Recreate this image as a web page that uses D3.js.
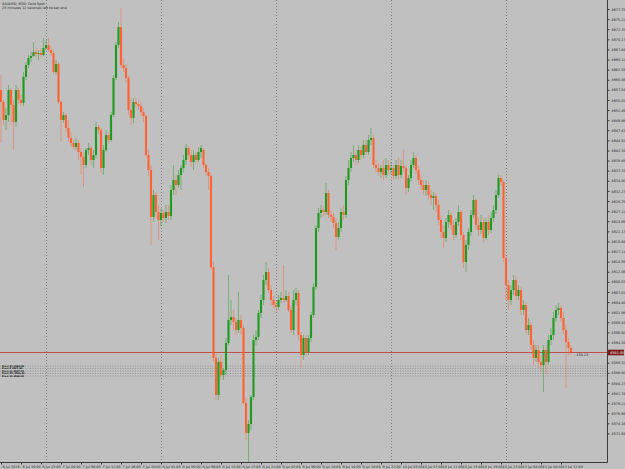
<!DOCTYPE html>
<html>
<head>
<meta charset="utf-8">
<script src="https://cdn.jsdelivr.net/npm/d3@7"></script>
<style>
  body { margin: 0; background: #c0c0c0; }
  svg { display: block; }
</style>
</head>
<body>
<div id="chart-area"></div>
<script>
// chart title lines (top left)
var titleLines = ["XAUUSD, M30: Gold Spot", "25 minutes 12 seconds left to bar end"]

// M30 candles
var opens = [
  4657.5, 4654.5, 4650, 4651.25, 4657.5, 4653.75, 4649.5, 4657.5, 4655, 4654.25,
  4660.75, 4663.75, 4665.5, 4666, 4667, 4666.5, 4666.75, 4666.25, 4668, 4668.75,
  4667.5, 4666.75, 4662, 4664, 4654.5, 4650, 4651.25, 4648, 4645.5, 4644.25,
  4643.25, 4644.25, 4642, 4640.75, 4638.75, 4642.5, 4643, 4640, 4641.25, 4648.25,
  4647.5, 4638, 4642.5, 4646.25, 4645, 4651.25, 4660.5, 4668.75, 4673.25, 4663.75,
  4663, 4660.5, 4652.5, 4650.5, 4654.5, 4654, 4653.5, 4652, 4651, 4641.25,
  4637.5, 4625.75, 4631.25, 4627, 4625, 4626.75, 4625.5, 4627, 4626, 4632.5,
  4635, 4633.75, 4636.25, 4638, 4640, 4643, 4641.25, 4639.5, 4641.25, 4640,
  4642, 4642.5, 4638.75, 4637, 4636, 4613.25, 4590.5, 4581.25, 4589.5, 4586.25,
  4587.5, 4594.25, 4600, 4600.75, 4599.5, 4597.5, 4600, 4598, 4579.25, 4571.75,
  4574, 4580.75, 4595, 4595.75, 4601.75, 4605, 4610, 4612, 4607.5, 4605,
  4603.75, 4603.25, 4605, 4605.5, 4605, 4606, 4602.5, 4597.5, 4605, 4606.75,
  4596.25, 4591.25, 4595.5, 4592, 4595.5, 4601.25, 4608.25, 4623, 4626.75, 4627.5,
  4627, 4631.75, 4626.25, 4625.75, 4624.25, 4620.75, 4623, 4627, 4626.25, 4635,
  4638, 4640.5, 4641.25, 4640, 4642.5, 4641.25, 4643.75, 4642, 4645, 4645.5,
  4638.75, 4638, 4637, 4638, 4636.25, 4638.75, 4637.5, 4638, 4636, 4638.75,
  4636.25, 4638.5, 4638, 4633, 4635.5, 4638.75, 4640.5, 4637.5, 4635, 4633.75,
  4632.5, 4633.75, 4631.25, 4630.5, 4631, 4628.75, 4625, 4622, 4620.5, 4624.5,
  4626.25, 4623.75, 4621.25, 4624.5, 4627, 4621.25, 4614.5, 4618.75, 4622, 4626.25,
  4630, 4623.75, 4622.5, 4624.5, 4620.5, 4624.5, 4622.5, 4625.5, 4627.5, 4631.25,
  4635.5, 4634.5, 4615.5, 4608.75, 4605, 4607.5, 4610, 4606, 4607.5, 4602.5,
  4603.75, 4597.5, 4598.75, 4593.75, 4590.5, 4592.5, 4589.5, 4588.75, 4592.5, 4589.5,
  4595, 4596.25, 4600.5, 4602.5, 4603, 4600.5, 4597.5, 4594.5, 4593
]
var highs = [
  4661.25, 4655, 4653, 4658.75, 4658, 4655, 4658.75, 4658, 4656.25, 4662,
  4664.5, 4666.25, 4667, 4669.5, 4668, 4667.5, 4668, 4670.5, 4670, 4670.5,
  4668.5, 4667.5, 4665, 4664.5, 4655, 4652, 4651.75, 4650, 4647, 4645,
  4645.5, 4645, 4643, 4642, 4643, 4644.25, 4643.75, 4642.5, 4649.5, 4648.75,
  4648, 4643.75, 4647.5, 4647, 4652, 4661.25, 4669.5, 4674.5, 4678, 4665.5,
  4664, 4661, 4655.5, 4655.5, 4655.5, 4655, 4654.5, 4653, 4651.5, 4642.5,
  4638.75, 4632.5, 4632, 4628.75, 4628, 4627.5, 4628.75, 4628.75, 4633.75, 4638.75,
  4636.25, 4637.5, 4638.75, 4641.25, 4644, 4643.75, 4642.5, 4642.5, 4642, 4643.25,
  4643.75, 4643, 4639.25, 4638, 4636.75, 4614.5, 4592, 4590.5, 4591.25, 4588,
  4595.5, 4611.25, 4605, 4602.5, 4600.5, 4607, 4601.25, 4598.75, 4580.5, 4575,
  4581.25, 4596.25, 4597.5, 4602.5, 4606.25, 4611.25, 4614.5, 4613, 4608.75, 4606,
  4605, 4606.25, 4607, 4613.75, 4607.5, 4607, 4603.75, 4607.5, 4608, 4607.5,
  4597, 4596.25, 4596.25, 4596.25, 4602, 4609.25, 4623.75, 4628, 4628.75, 4628.5,
  4634.25, 4632.5, 4627.5, 4626.75, 4625.5, 4624.5, 4628, 4628.75, 4636, 4640,
  4642, 4643.75, 4642.5, 4643.75, 4643.5, 4645, 4645, 4646.25, 4648, 4646.25,
  4640, 4639.25, 4638.75, 4640, 4640.5, 4640, 4639.5, 4638.75, 4640, 4640.5,
  4640, 4642.5, 4638.75, 4636.25, 4640, 4642, 4641.25, 4638.5, 4636.25, 4635,
  4635, 4634.5, 4632.5, 4632, 4631.75, 4630, 4626.25, 4623.75, 4625.5, 4627.5,
  4627, 4625, 4625.5, 4628.75, 4627.5, 4622, 4620, 4623, 4627.5, 4631.25,
  4630.5, 4625.5, 4626.25, 4625.5, 4625.5, 4626.25, 4627, 4628.75, 4632.5, 4636.25,
  4636.25, 4635, 4616.25, 4610, 4608.75, 4611.25, 4611, 4608.75, 4608.25, 4605,
  4604.5, 4600.5, 4599.5, 4595, 4593.75, 4593.75, 4591.25, 4593.75, 4593.75, 4596.25,
  4598, 4602, 4603.75, 4604.25, 4603.75, 4602, 4598.75, 4595.5, 4593.75
]
var lows = [
  4644.25, 4648.75, 4647.5, 4649.5, 4648.75, 4642.5, 4648.25, 4654, 4653.5, 4653.5,
  4660, 4663, 4664.5, 4665.75, 4665.5, 4665, 4665.75, 4666, 4667.5, 4667,
  4666, 4661.5, 4661.25, 4654, 4644.5, 4649.25, 4647, 4644.5, 4643.25, 4642.5,
  4642.5, 4640, 4636.25, 4633.25, 4638, 4641.25, 4638.75, 4638, 4640.5, 4646.25,
  4636.75, 4636.25, 4642, 4644.25, 4644.5, 4650.75, 4660, 4668, 4663, 4662,
  4659.5, 4651.25, 4648.75, 4649.25, 4653, 4652.5, 4651, 4649.5, 4640.5, 4636,
  4618.75, 4624.5, 4625.5, 4620, 4623.5, 4624.5, 4624.25, 4625, 4625, 4631.25,
  4631.25, 4633, 4632.5, 4637, 4638.75, 4640, 4638.25, 4637.5, 4639.25, 4639.5,
  4640.5, 4638, 4636.25, 4632.5, 4612.5, 4589.5, 4580, 4580, 4585, 4585,
  4586.25, 4593.75, 4598.75, 4597.5, 4596.25, 4596.75, 4596.25, 4578.75, 4570, 4564.5,
  4572.5, 4580, 4593.75, 4595, 4600.5, 4603.75, 4608.75, 4606.75, 4603.75, 4603,
  4602, 4602.5, 4604.25, 4604.25, 4604.5, 4602, 4596.75, 4596.25, 4603.75, 4595,
  4588, 4590, 4591, 4591.25, 4594.5, 4600.5, 4607.5, 4622, 4625.5, 4626,
  4626.25, 4625.5, 4624.5, 4623, 4617.5, 4620, 4622, 4625, 4625.5, 4633.75,
  4637, 4639.5, 4638.75, 4639.25, 4640, 4640.5, 4641.25, 4641.25, 4643.75, 4638,
  4637, 4636, 4635.5, 4635, 4635.5, 4636.25, 4636.5, 4635, 4635.25, 4635,
  4635.5, 4637, 4631.25, 4632, 4634.5, 4638, 4636.5, 4633.75, 4632.5, 4631.25,
  4631, 4630, 4628.75, 4627.5, 4627, 4623.75, 4620.5, 4618, 4619.5, 4623,
  4622.5, 4620, 4620.5, 4623.5, 4620, 4613, 4612, 4617.5, 4621, 4625.5,
  4622.5, 4621, 4621.5, 4619.5, 4620, 4621.25, 4621.75, 4624.5, 4626.5, 4630.5,
  4633.5, 4614.5, 4605, 4602.5, 4603.75, 4606.25, 4605, 4605, 4601.25, 4601.25,
  4596.25, 4596.25, 4592.5, 4588.75, 4589.5, 4588, 4587, 4582, 4586.25, 4588.75,
  4593.75, 4595, 4599.5, 4601.25, 4599.5, 4596.25, 4583, 4591.25, 4591.25
]
var closes = [
  4654.5, 4650, 4651.25, 4657.5, 4653.75, 4649.5, 4657.5, 4655, 4654.25, 4660.75,
  4663.75, 4665.5, 4666, 4667, 4666.5, 4666.75, 4666.25, 4668, 4668.75, 4667.5,
  4666.75, 4662, 4664, 4654.5, 4650, 4651.25, 4648, 4645.5, 4644.25, 4643.25,
  4644.25, 4642, 4640.75, 4638.75, 4642.5, 4643, 4640, 4641.25, 4648.25, 4647.5,
  4638, 4642.5, 4646.25, 4645, 4651.25, 4660.5, 4668.75, 4673.25, 4663.75, 4663,
  4660.5, 4652.5, 4650.5, 4654.5, 4654, 4653.5, 4652, 4651, 4641.25, 4637.5,
  4625.75, 4631.25, 4627, 4625, 4626.75, 4625.5, 4627, 4626, 4632.5, 4635,
  4633.75, 4636.25, 4638, 4640, 4643, 4641.25, 4639.5, 4641.25, 4640, 4642,
  4643, 4638.75, 4637, 4636, 4613.25, 4590.5, 4581.25, 4589.5, 4586.25, 4587.5,
  4594.25, 4600, 4600.75, 4599.5, 4597.5, 4600, 4598, 4579.25, 4571.75, 4574,
  4580.75, 4595, 4595.75, 4601.75, 4605, 4610, 4612, 4607.5, 4605, 4603.75,
  4603.25, 4605, 4605.5, 4605, 4606, 4602.5, 4597.5, 4605, 4606.75, 4596.25,
  4591.25, 4595.5, 4592, 4595.5, 4601.25, 4608.25, 4623, 4626.75, 4627.5, 4627,
  4631.75, 4626.25, 4625.75, 4624.25, 4620.75, 4623, 4627, 4626.25, 4635, 4638,
  4640.5, 4641.25, 4640, 4642.5, 4641.25, 4643.75, 4642, 4645, 4645.5, 4638.75,
  4638, 4637, 4638, 4636.25, 4638.75, 4637.5, 4638, 4636, 4638.75, 4636.25,
  4638.5, 4638, 4633, 4635.5, 4638.75, 4640.5, 4637.5, 4635, 4633.75, 4632.5,
  4633.75, 4631.25, 4630.5, 4631, 4628.75, 4625, 4622, 4620.5, 4624.5, 4626.25,
  4623.75, 4621.25, 4624.5, 4627, 4621.25, 4614.5, 4618.75, 4622, 4626.25, 4630,
  4623.75, 4622.5, 4624.5, 4620.5, 4624.5, 4622.5, 4625.5, 4627.5, 4631.25, 4635.5,
  4634.5, 4615.5, 4608.75, 4605, 4607.5, 4610, 4606, 4607.5, 4602.5, 4603.75,
  4597.5, 4598.75, 4593.75, 4590.5, 4592.5, 4589.5, 4588.75, 4592.5, 4589.5, 4595,
  4596.25, 4600.5, 4602.5, 4603, 4600.5, 4597.5, 4594.5, 4593, 4592
]

// time axis: label text and the bar it sits on
var timeLabels = [
  "6 Jul 2026", "6 Jul 19:00", "6 Jul 23:00", "7 Jul 04:00", "7 Jul 08:00",
  "7 Jul 12:00", "7 Jul 16:00", "7 Jul 20:00", "8 Jul 01:00", "8 Jul 05:00",
  "8 Jul 09:00", "8 Jul 13:00", "8 Jul 17:00", "8 Jul 21:00", "9 Jul 02:00",
  "9 Jul 06:00", "9 Jul 10:00", "9 Jul 14:00", "9 Jul 18:00", "9 Jul 22:00",
  "10 Jul 03:00", "10 Jul 07:00", "10 Jul 11:00", "10 Jul 15:00", "10 Jul 19:00",
  "10 Jul 23:00", "13 Jul 04:00", "13 Jul 08:00", "13 Jul 12:00"
]
var timeLabelBars = [0, 8, 16, 24, 32, 40, 48, 56, 64, 72, 80, 88, 96, 104, 112,
  120, 128, 136, 144, 152, 160, 168, 176, 184, 192, 200, 208, 216, 224]
// first bar of each new day (period separators)
var dayStartBars = [18, 64, 110, 156, 202]

// price axis labels
var priceTicks = [
  4677.75, 4675.22, 4672.70, 4670.17, 4667.64, 4665.12, 4662.59, 4660.06, 4657.54, 4655.01,
  4652.49, 4649.96, 4647.43, 4644.91, 4642.38, 4639.85, 4637.33, 4634.80, 4632.27, 4629.75,
  4627.22, 4624.69, 4622.17, 4619.64, 4617.11, 4614.59, 4612.06, 4609.53, 4607.01, 4604.48,
  4601.96, 4599.43, 4596.90, 4594.38, 4589.32, 4586.80, 4584.27, 4581.74,
  4579.22, 4576.69, 4574.16, 4571.64
]
var bidPrice = 4592.00
var bidNote = "- 150.23"

// dotted level lines and their labels (left side)
var levelPrices = [4588.50, 4587.88, 4587.25, 4586.63, 4586.00]
var levelNames = ["Pivot R1 4588.50", "Pivot P 4587.88", "Pivot S1 4587.25", "Pivot M1 4586.63", "Pivot S2 4586.00"]

var width = 625, height = 469
var plotRight = 607, plotBottom = 462

var svg = d3.select("#chart-area")
  .append("svg")
  .attr("width", width)
  .attr("height", height)

svg.append("rect")
  .attr("width", width)
  .attr("height", height)
  .attr("fill", "#c0c0c0")

var x = d3.scaleLinear()
  .domain([0, closes.length - 1])
  .range([1, 571])

var y = d3.scaleLinear()
  .domain([4680, 4564.5])
  .range([0, plotBottom])

svg.append("clipPath").attr("id", "plot-clip")
  .append("rect")
  .attr("width", plotRight)
  .attr("height", plotBottom)

var plot = svg.append("g").attr("clip-path", "url(#plot-clip)")

// period separators
plot.selectAll(".sep")
  .data(dayStartBars)
  .enter()
  .append("line")
  .attr("class", "sep")
  .attr("x1", function(d) { return Math.round(x(d)) + 0.5 })
  .attr("x2", function(d) { return Math.round(x(d)) + 0.5 })
  .attr("y1", 0)
  .attr("y2", plotBottom)
  .attr("stroke", "#6e6e6e")
  .attr("stroke-width", 0.8)
  .attr("stroke-dasharray", "1,2")

// dotted level lines
plot.selectAll(".level")
  .data(levelPrices)
  .enter()
  .append("line")
  .attr("class", "level")
  .attr("x1", 0)
  .attr("x2", plotRight)
  .attr("y1", function(d) { return y(d) })
  .attr("y2", function(d) { return y(d) })
  .attr("stroke", "#8a8a8a")
  .attr("stroke-width", 0.8)
  .attr("stroke-dasharray", "1,1.5")

plot.selectAll(".level-name")
  .data(levelPrices)
  .enter()
  .append("text")
  .attr("class", "level-name")
  .attr("x", 2)
  .attr("y", function(d) { return y(d) + 0.9 })
  .attr("font-family", "DejaVu Sans, sans-serif")
  .attr("font-size", 2.3)
  .attr("font-weight", "bold")
  .attr("fill", "#111")
  .text(function(d, i) { return levelNames[i] })

// bid line
plot.append("line")
  .attr("x1", 0)
  .attr("x2", plotRight)
  .attr("y1", Math.round(y(bidPrice)) + 0.5)
  .attr("y2", Math.round(y(bidPrice)) + 0.5)
  .attr("stroke", "#c0504a")
  .attr("stroke-width", 1)

var bars = d3.range(closes.length)

function barColor(i) {
  return closes[i] >= opens[i] ? "#1e9a1e" : "#ff6230"
}

// wicks
plot.selectAll(".wick")
  .data(bars)
  .enter()
  .append("line")
  .attr("class", "wick")
  .attr("x1", function(i) { return x(i) })
  .attr("x2", function(i) { return x(i) })
  .attr("y1", function(i) { return y(highs[i]) })
  .attr("y2", function(i) { return y(lows[i]) })
  .attr("stroke", barColor)
  .attr("stroke-width", 0.6)
  .attr("stroke-opacity", 0.75)

// bodies
plot.selectAll(".body")
  .data(bars)
  .enter()
  .append("rect")
  .attr("class", "body")
  .attr("x", function(i) { return x(i) - 1.05 })
  .attr("width", 2.1)
  .attr("y", function(i) { return y(Math.max(opens[i], closes[i])) })
  .attr("height", function(i) {
    return Math.max(0.8, Math.abs(y(opens[i]) - y(closes[i])))
  })
  .attr("fill", barColor)

plot.append("text")
  .attr("x", x(closes.length - 1) + 3)
  .attr("y", y(bidPrice) + 4)
  .attr("font-family", "DejaVu Sans, sans-serif")
  .attr("font-size", 3.4)
  .attr("fill", "#222")
  .text(bidNote)

// title
svg.selectAll(".title")
  .data(titleLines)
  .enter()
  .append("text")
  .attr("class", "title")
  .attr("x", 2)
  .attr("y", function(d, i) { return 5 + i * 4.2 })
  .attr("font-family", "DejaVu Sans, sans-serif")
  .attr("font-size", 3.4)
  .attr("fill", "#222")
  .text(function(d) { return d })

// price axis
var yAxis = d3.axisRight(y)
  .tickValues(priceTicks)
  .tickSize(2)
  .tickPadding(2)
  .tickFormat(d3.format(".2f"))

var gy = svg.append("g")
  .attr("transform", "translate(" + (plotRight + 0.5) + ",0)")
  .call(yAxis)
gy.select(".domain").attr("stroke", "#3a3a3a").attr("d", "M0,0V" + (plotBottom + 0.5))
gy.selectAll(".tick line").attr("stroke", "#3a3a3a")
gy.selectAll(".tick text")
  .attr("font-family", "DejaVu Sans, sans-serif")
  .attr("font-size", 3.4)
  .attr("fill", "#2a2a2a")

// bid label on the price axis
var bidY = Math.round(y(bidPrice)) + 0.5
svg.append("rect")
  .attr("x", plotRight + 1)
  .attr("y", bidY - 2.8)
  .attr("width", 16)
  .attr("height", 5.6)
  .attr("fill", "#7a1a1a")
svg.append("text")
  .attr("x", plotRight + 3)
  .attr("y", bidY + 1.3)
  .attr("font-family", "DejaVu Sans, sans-serif")
  .attr("font-size", 3.4)
  .attr("fill", "#f0f0f0")
  .text(d3.format(".2f")(bidPrice))

// time axis
var xAxis = d3.axisBottom(x)
  .tickValues(timeLabelBars)
  .tickSize(2)
  .tickPadding(1)
  .tickFormat(function(d, i) { return timeLabels[i] })

var gx = svg.append("g")
  .attr("transform", "translate(0," + (plotBottom + 0.5) + ")")
  .call(xAxis)
gx.select(".domain").attr("stroke", "#3a3a3a").attr("d", "M0,0H" + (plotRight + 0.5))
gx.selectAll(".tick line").attr("stroke", "#3a3a3a")
gx.selectAll(".tick text")
  .attr("text-anchor", "start")
  .attr("dx", 1)
  .attr("font-family", "DejaVu Sans, sans-serif")
  .attr("font-size", 3.4)
  .attr("fill", "#2a2a2a")
</script>
</body>
</html>
